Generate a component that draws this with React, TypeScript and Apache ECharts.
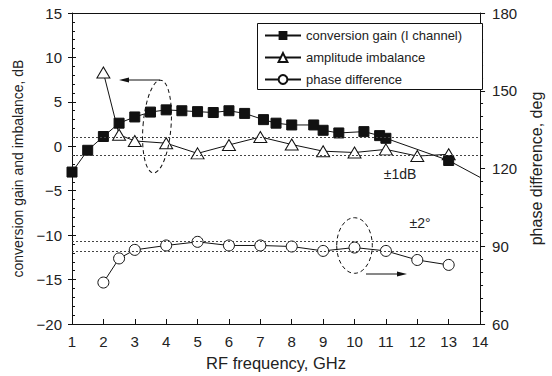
import React, { useEffect, useRef } from "react";
import * as echarts from "echarts";

const freqGain = [1, 1.5, 2, 2.5, 3, 3.5, 4, 4.5, 5, 5.5, 6, 6.5, 7.1, 7.5, 8, 8.7, 9, 9.5, 10.3, 10.8, 11, 13, 14];
const gain = [-2.9, -0.45, 1.1, 2.6, 3.3, 3.85, 4.1, 4.0, 3.9, 3.8, 4.0, 3.7, 3.0, 2.6, 2.4, 2.4, 1.8, 1.5, 1.65, 1.2, 0.9, -1.6, -3.5];

const freqAmp = [2, 2.5, 3, 4, 5, 6, 7, 8, 9, 10, 11, 12, 13];
const amp = [8.3, 1.3, 0.6, 0.35, -0.8, 0.15, 1.05, 0.2, -0.55, -0.7, -0.35, -1.1, -0.9];

const freqPhase = [2, 2.5, 3, 4, 5, 6, 7, 8, 9, 10, 11, 12, 13];
const phase = [76.0, 85.3, 88.6, 90.3, 91.7, 90.3, 90.3, 89.9, 88.2, 89.5, 88.2, 84.7, 82.8];

const ampLimits = [1, -1];
const phaseLimits = [92, 88];

const seriesNames = ["conversion gain (I channel)", "amplitude imbalance", "phase difference"];

const FONT = "'Liberation Sans', Arial, Helvetica, sans-serif";
const TXT = "#222";
const minus = (v: number) => String(v).replace("-", "\u2212");

export default function App() {
  const ref = useRef<HTMLDivElement>(null);
  useEffect(() => {
    if (!ref.current) return;
    const chart = echarts.init(ref.current, undefined, { renderer: "svg" });
    const dotted = { type: [2, 2] as any, color: "#444", width: 1 };
    const axisLine = { show: true, onZero: false, lineStyle: { color: "#111", width: 1 } };
    const option: any = {
      animation: false,
      backgroundColor: "#fff",
      textStyle: { fontFamily: FONT, color: TXT },
      grid: { left: 72, right: 62, top: 13, bottom: 51 },
      legend: {
        orient: "vertical",
        left: 264,
        top: 29,
        padding: 0,
        itemWidth: 36,
        itemHeight: 11,
        itemGap: 9,
        textStyle: { fontFamily: FONT, fontSize: 13, color: TXT },
        data: seriesNames,
      },
      xAxis: [
        {
          type: "value",
          min: 1,
          max: 14,
          interval: 1,
          name: "RF frequency, GHz",
          nameLocation: "middle",
          nameGap: 30,
          nameTextStyle: { fontFamily: FONT, fontSize: 16.5, color: TXT },
          axisLine,
          axisTick: { show: true, inside: true, length: 5, lineStyle: { color: "#111" } },
          axisLabel: { fontFamily: FONT, fontSize: 15, color: TXT, margin: 10 },
          splitLine: { show: false },
        },
        {
          type: "value",
          position: "top",
          min: 1,
          max: 14,
          interval: 1,
          axisLine,
          axisTick: { show: false },
          axisLabel: { show: false },
          splitLine: { show: false },
        },
      ],
      yAxis: [
        {
          type: "value",
          position: "left",
          min: -20,
          max: 15,
          interval: 5,
          name: "conversion gain and imbalance, dB",
          nameLocation: "middle",
          nameGap: 47,
          nameTextStyle: { fontFamily: FONT, fontSize: 14, color: TXT },
          axisLine,
          axisTick: { show: true, inside: false, length: 4, lineStyle: { color: "#111" } },
          axisLabel: { fontFamily: FONT, fontSize: 15, color: TXT, margin: 10, formatter: minus },
          splitLine: { show: false },
        },
        {
          type: "value",
          position: "right",
          min: 60,
          max: 180,
          interval: 30,
          name: "phase difference, deg",
          nameLocation: "middle",
          nameRotate: 90,
          nameGap: 47,
          nameTextStyle: { fontFamily: FONT, fontSize: 16, color: TXT },
          axisLine,
          axisTick: { show: true, inside: false, length: 5, lineStyle: { color: "#111" } },
          minorTick: { show: true, splitNumber: 6, length: 3, lineStyle: { color: "#111" } },
          axisLabel: { fontFamily: FONT, fontSize: 15, color: TXT, margin: 12 },
          splitLine: { show: false },
        },
        {
          type: "value",
          position: "left",
          offset: 0,
          min: -20,
          max: 15,
          interval: 5,
          axisLine: { show: false, onZero: false },
          axisTick: { show: true, inside: true, length: 4, lineStyle: { color: "#111" } },
          minorTick: { show: true, splitNumber: 5, length: 3, lineStyle: { color: "#111" } },
          axisLabel: { show: false },
          splitLine: { show: false },
        },
      ],
      series: [
        {
          name: seriesNames[0],
          type: "line",
          xAxisIndex: 0,
          yAxisIndex: 0,
          z: 4,
          data: freqGain.map((f, i) =>
            i === freqGain.length - 1 ? { value: [f, gain[i]], symbol: "none" } : [f, gain[i]]
          ),
          symbol: "rect",
          symbolSize: 10,
          itemStyle: { color: "#111", borderColor: "#111" },
          lineStyle: { color: "#111", width: 1 },
        },
        {
          name: seriesNames[1],
          type: "line",
          xAxisIndex: 0,
          yAxisIndex: 0,
          z: 3,
          data: freqAmp.map((f, i) => [f, amp[i]]),
          symbol: "triangle",
          symbolSize: [13, 11],
          itemStyle: { color: "#fff", borderColor: "#111", borderWidth: 1 },
          lineStyle: { color: "#111", width: 1 },
          markLine: {
            silent: true,
            symbol: "none",
            label: { show: false },
            lineStyle: dotted,
            data: ampLimits.map((v) => ({ yAxis: v })),
          },
        },
        {
          name: seriesNames[2],
          type: "line",
          xAxisIndex: 0,
          yAxisIndex: 1,
          z: 3,
          data: freqPhase.map((f, i) => [f, phase[i]]),
          symbol: "circle",
          symbolSize: 11,
          itemStyle: { color: "#fff", borderColor: "#111", borderWidth: 1 },
          lineStyle: { color: "#111", width: 1 },
          markLine: {
            silent: true,
            symbol: "none",
            label: { show: false },
            lineStyle: dotted,
            data: phaseLimits.map((v) => ({ yAxis: v })),
          },
        },
      ],
      graphic: [
        {
          type: "rect",
          z: 1,
          shape: { x: 257.5, y: 23.5, width: 225, height: 66 },
          style: { fill: "#fff", stroke: "#111", lineWidth: 1 },
        },
        {
          type: "ellipse",
          z: 5,
          x: 157,
          y: 126.5,
          rotation: -0.08,
          shape: { cx: 0, cy: 0, rx: 14, ry: 46.5 },
          style: { fill: "none", stroke: "#111", lineWidth: 1, lineDash: [4, 3] },
        },
        {
          type: "line",
          z: 5,
          shape: { x1: 160, y1: 80, x2: 126, y2: 80 },
          style: { stroke: "#111", lineWidth: 1 },
        },
        {
          type: "polygon",
          z: 5,
          shape: { points: [[119, 80], [129, 77.5], [129, 82.5]] },
          style: { fill: "#111" },
        },
        {
          type: "ellipse",
          z: 5,
          x: 354.5,
          y: 245.5,
          shape: { cx: 0, cy: 0, rx: 17.8, ry: 27.8 },
          style: { fill: "none", stroke: "#111", lineWidth: 1, lineDash: [4, 3] },
        },
        {
          type: "line",
          z: 5,
          shape: { x1: 366, y1: 274, x2: 400, y2: 274 },
          style: { stroke: "#111", lineWidth: 1 },
        },
        {
          type: "polygon",
          z: 5,
          shape: { points: [[407, 274], [397, 271.5], [397, 276.5]] },
          style: { fill: "#111" },
        },
        {
          type: "text",
          z: 5,
          x: 400,
          y: 174,
          style: { text: "±1dB", font: `14px ${FONT}`, fill: TXT, align: "center", verticalAlign: "middle" },
        },
        {
          type: "text",
          z: 5,
          x: 420,
          y: 223,
          style: { text: "±2°", font: `14px ${FONT}`, fill: TXT, align: "center", verticalAlign: "middle" },
        },
      ],
    };
    chart.setOption(option);
    return () => chart.dispose();
  }, []);
  return <div ref={ref} style={{ position: "absolute", left: 0, top: 0, width: 552, height: 376 }} />;
}
